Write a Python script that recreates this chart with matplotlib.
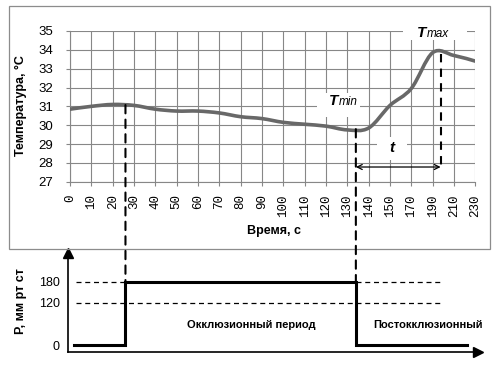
import numpy as np
import matplotlib
matplotlib.use("Agg")
import matplotlib.pyplot as plt
from matplotlib.path import Path
from matplotlib.patches import PathPatch, Rectangle, ConnectionPatch

# ---- data ----
times = [0, 10, 20, 30, 40, 50, 60, 70, 80, 90, 100, 110, 120, 130,
         140, 150, 170, 190, 210, 230]
time_labels = [str(t) for t in times]
temp = [30.85, 31.0, 31.1, 31.05, 30.85, 30.75, 30.75, 30.65, 30.45, 30.35,
        30.15, 30.05, 29.95, 29.75, 29.85, 31.05, 31.95, 33.85, 33.7, 33.4]

occl_start = 26     # s
occl_end = 134      # s
tmax_time = 197.5   # s
t_arrow_level = 27.78

p_time = [2, occl_start, occl_start, occl_end, occl_end, 222]
p_val = [0, 0, 180, 180, 0, 0]
p_levels = [180, 120]
p_level_span = [3, 199]
p_ticks = [0, 120, 180]

W, H = 500, 369
GRID = '#878787'
CURVE = '#686868'


def to_idx(t):
    return np.interp(t, times, np.arange(len(times)))


def box(x0, y0, x1, y1):
    return [x0 / W, 1 - y1 / H, (x1 - x0) / W, (y1 - y0) / H]


fig = plt.figure(figsize=(5, 3.69), dpi=100)
plt.rcParams['font.family'] = ['Liberation Sans', 'DejaVu Sans']

# chart area border
fig.add_artist(Rectangle((8.5 / W, 1 - 248.5 / H), 481 / W, 242.5 / H,
                         transform=fig.transFigure, fill=False,
                         edgecolor='#8c8c8c', lw=0.9))

# ---- top chart ----
ax = fig.add_axes(box(70, 31, 475.3, 181.7))
ax.set_xlim(0, len(times) - 1)
ax.set_ylim(27, 35)
ax.set_xticks(np.arange(len(times)))
ax.set_xticklabels(time_labels, rotation=90, family='Liberation Mono',
                   fontsize=9)
ax.set_yticks(np.arange(27, 36))
ax.tick_params(axis='y', labelsize=9.5, length=3, color=GRID, pad=9)
ax.tick_params(axis='x', length=3, color=GRID, pad=6)
ax.grid(True, color=GRID, lw=0.8, zorder=0.5)
ax.set_axisbelow(True)
for s in ['top', 'right']:
    ax.spines[s].set_visible(False)
for s in ['left', 'bottom']:
    ax.spines[s].set_color(GRID)
    ax.spines[s].set_linewidth(0.8)

# smoothed curve (bezier through the points)
xs = np.arange(len(temp), dtype=float)
ys = np.array(temp)
pts = np.column_stack([xs, ys])
verts = [pts[0]]
codes = [Path.MOVETO]
for i in range(len(pts) - 1):
    p0 = pts[i - 1] if i > 0 else pts[i]
    p1, p2 = pts[i], pts[i + 1]
    p3 = pts[i + 2] if i + 2 < len(pts) else pts[i + 1]
    verts += [p1 + (p2 - p0) / 6, p2 - (p3 - p1) / 6, p2]
    codes += [Path.CURVE4] * 3
ax.add_patch(PathPatch(Path(verts, codes), fill=False, edgecolor=CURVE,
                       lw=2.6, capstyle='round', joinstyle='round', zorder=3))

# white label boxes
for (x0, x1, y0, y1) in [(11.57, 13.59, 30.43, 31.71),
                         (15.6, 18.6, 34.52, 35.32),
                         (14.39, 15.79, 28.15, 29.37)]:
    ax.add_patch(Rectangle((x0, y0), x1 - x0, y1 - y0, facecolor='white',
                           edgecolor='none', zorder=1.5, clip_on=False))

# Tmin / Tmax / t labels
ax.text(12.6, 31.05, 'T', fontsize=11, fontweight='bold', style='italic',
        ha='right', va='baseline', zorder=4)
ax.text(12.62, 31.05, 'min', fontsize=8.5, style='italic',
        ha='left', va='baseline', zorder=4)
ax.text(16.7, 34.7, 'T', fontsize=11, fontweight='bold', style='italic',
        ha='right', va='baseline', zorder=4)
ax.text(16.72, 34.7, 'max', fontsize=8.5, style='italic',
        ha='left', va='baseline', zorder=4)
ax.text(15.1, 28.57, 't', fontsize=11, fontweight='bold', style='italic',
        ha='center', va='baseline', zorder=4)

# interval arrow and Tmax dashed line
xs_min = to_idx(occl_end)
xs_max = to_idx(tmax_time)
ax.annotate('', xy=(xs_max, t_arrow_level), xytext=(xs_min, t_arrow_level),
            arrowprops=dict(arrowstyle='<->', color='black', lw=0.9,
                            shrinkA=0, shrinkB=0, mutation_scale=9),
            zorder=4)
ax.plot([xs_max, xs_max], [np.interp(xs_max, xs, ys), t_arrow_level],
        color='black', lw=1.5, ls=(0, (4, 3)), zorder=4)

fig.text(274 / W, 1 - 231 / H, 'Время, с', fontsize=9, fontweight='bold',
         ha='center', va='center')
fig.text(21 / W, 1 - 106 / H, 'Температура, °С', fontsize=9,
         fontweight='bold', rotation=90, ha='center', va='center')

# ---- bottom chart ----
ax2 = fig.add_axes(box(68.3, 253, 478, 352.3))
ax2.set_xlim((68.3 - 70) / 21.333, (478 - 70) / 21.333)
ax2.set_ylim(-7.3 * 180 / 63.3, 180 + 28.7 * 180 / 63.3)
ax2.patch.set_alpha(0)
for s in ax2.spines.values():
    s.set_visible(False)
ax2.set_xticks([])
ax2.set_yticks(p_ticks)
ax2.tick_params(axis='y', length=0, pad=6, labelsize=9)
# axis lines with arrow heads
ax2.plot([0, 1], [0, 0], color='black', lw=1.2, transform=ax2.transAxes,
         clip_on=False, zorder=4)
ax2.plot([0, 0], [0, 1], color='black', lw=1.2, transform=ax2.transAxes,
         clip_on=False, zorder=4)
ax2.plot(1, 0, marker='>', ms=7, color='black', transform=ax2.transAxes,
         clip_on=False, zorder=4)
ax2.plot(0, 1, marker='^', ms=7, color='black', transform=ax2.transAxes,
         clip_on=False, zorder=4)

for lv in p_levels:
    ax2.plot(to_idx(np.array(p_level_span)), [lv, lv], color='black',
             lw=0.9, ls=(0, (4, 3)))
ax2.plot(to_idx(np.array(p_time)), p_val, color='black', lw=2.2,
         solid_joinstyle='miter')

ax2.text(to_idx(85), 57, 'Окклюзионный период', fontsize=8, fontweight='bold',
         ha='center', va='center')
ax2.text((428 - 70) / 21.333, 57, 'Постокклюзионный', fontsize=8,
         fontweight='bold', ha='center', va='center')
fig.text(21 / W, 1 - 301 / H, 'Р, мм рт ст', fontsize=9, fontweight='bold',
         rotation=90, ha='center', va='center')

# vertical dashed connectors between the charts
for t_c in [occl_start, occl_end]:
    xc = to_idx(t_c)
    con = ConnectionPatch(xyA=(xc, np.interp(xc, xs, ys)), coordsA=ax.transData,
                          xyB=(xc, 180), coordsB=ax2.transData,
                          color='black', lw=1.5, ls=(0, (4, 3)), zorder=5)
    fig.add_artist(con)

fig.savefig('out.png', dpi=100)
